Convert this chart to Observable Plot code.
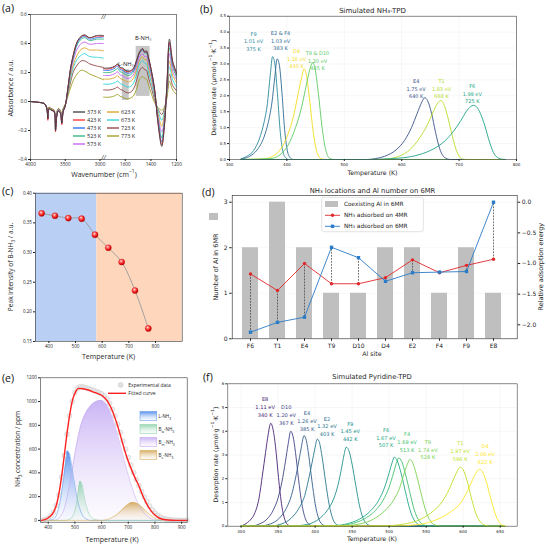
<!DOCTYPE html>
<html>
<head>
<meta charset="utf-8">
<script src="https://cdn.jsdelivr.net/npm/d3@7"></script>
<script src="https://cdn.jsdelivr.net/npm/@observablehq/plot@0.6"></script>
<style>
  html, body { margin: 0; padding: 0; background: #fff; }
  #fig { position: relative; width: 546px; height: 544px; overflow: hidden; background: #fff; }
</style>
</head>
<body>
<svg width="0" height="0" style="position:absolute">
  <defs>
    <radialGradient id="ball" cx="0.4" cy="0.35" r="0.62">
      <stop offset="0" stop-color="#ffffff"/>
      <stop offset="0.22" stop-color="#ff8a8a"/>
      <stop offset="0.65" stop-color="#f42020"/>
      <stop offset="1" stop-color="#b30000"/>
    </radialGradient>
    <linearGradient id="fillL" x1="0" y1="0" x2="0" y2="1">
      <stop offset="0" stop-color="#3b7ee8" stop-opacity="0.85"/>
      <stop offset="1" stop-color="#e3edfc" stop-opacity="0.2"/>
    </linearGradient>
    <linearGradient id="fillBw" x1="0" y1="0" x2="0" y2="1">
      <stop offset="0" stop-color="#6cc594" stop-opacity="0.7"/>
      <stop offset="1" stop-color="#e6f6ec" stop-opacity="0.2"/>
    </linearGradient>
    <linearGradient id="fillBm" x1="0" y1="0" x2="0" y2="1">
      <stop offset="0" stop-color="#a985ee" stop-opacity="0.62"/>
      <stop offset="1" stop-color="#f3ecfd" stop-opacity="0.25"/>
    </linearGradient>
    <linearGradient id="fillBs" x1="0" y1="0" x2="0" y2="1">
      <stop offset="0" stop-color="#c99233" stop-opacity="0.75"/>
      <stop offset="1" stop-color="#f7eedd" stop-opacity="0.2"/>
    </linearGradient>
  </defs>
</svg>
<div id="fig"></div>
<script>
// ---------- (a) in-situ IR spectra of adsorbed NH3 ----------
const aTemps = [373, 423, 473, 523, 573, 623, 673, 723, 773];
const wnGrid = [4000, 3900, 3800, 3765, 3750, 3735, 3700, 3660, 3640, 3625, 3600, 3570, 3550, 3530, 3500, 3460, 3420, 3380, 3330, 3270, 3220, 3150, 3050, 2950,
  1770, 1720, 1680, 1660, 1640, 1620, 1600, 1570, 1540, 1510, 1490, 1465, 1450, 1435, 1420, 1395, 1370, 1345, 1315, 1295, 1275, 1255, 1230, 1200];
const ir373 = [0.00, -0.005, -0.015, -0.05, -0.12, -0.05, -0.06, -0.07, -0.20, -0.11, -0.065, -0.08, -0.15, -0.07, -0.03, 0.10, 0.24, 0.33, 0.41, 0.45, 0.46, 0.44, 0.455, 0.455,
  0.23, 0.232, 0.245, 0.26, 0.235, 0.232, 0.215, 0.21, 0.225, 0.29, 0.34, 0.366, 0.345, 0.35, 0.31, 0.21, 0.08, -0.15, -0.31, -0.18, 0.12, 0.43, 0.28, 0.20];
const ir423 = [0.00, -0.005, -0.015, -0.05, -0.13, -0.05, -0.06, -0.07, -0.21, -0.11, -0.065, -0.08, -0.16, -0.07, -0.03, 0.10, 0.24, 0.33, 0.41, 0.45, 0.455, 0.44, 0.45, 0.45,
  0.225, 0.226, 0.24, 0.255, 0.23, 0.226, 0.21, 0.205, 0.22, 0.285, 0.335, 0.362, 0.34, 0.345, 0.305, 0.205, 0.075, -0.14, -0.30, -0.17, 0.11, 0.41, 0.27, 0.19];
const ir473 = [0.00, -0.005, -0.015, -0.05, -0.12, -0.05, -0.06, -0.07, -0.20, -0.11, -0.065, -0.08, -0.15, -0.07, -0.03, 0.10, 0.235, 0.32, 0.40, 0.44, 0.45, 0.43, 0.44, 0.445,
  0.215, 0.216, 0.23, 0.245, 0.22, 0.215, 0.20, 0.195, 0.21, 0.28, 0.33, 0.358, 0.337, 0.34, 0.30, 0.20, 0.07, -0.13, -0.28, -0.16, 0.10, 0.40, 0.26, 0.185];
const ir523 = [0.00, -0.005, -0.015, -0.05, -0.12, -0.05, -0.06, -0.07, -0.20, -0.11, -0.065, -0.08, -0.15, -0.07, -0.03, 0.09, 0.23, 0.31, 0.39, 0.43, 0.44, 0.42, 0.43, 0.43,
  0.20, 0.20, 0.215, 0.228, 0.205, 0.20, 0.185, 0.18, 0.20, 0.275, 0.33, 0.357, 0.335, 0.335, 0.29, 0.19, 0.06, -0.12, -0.25, -0.14, 0.09, 0.37, 0.24, 0.17];
const ir573 = [0.00, -0.005, -0.015, -0.05, -0.11, -0.05, -0.06, -0.07, -0.19, -0.10, -0.06, -0.075, -0.14, -0.065, -0.03, 0.09, 0.21, 0.29, 0.36, 0.40, 0.41, 0.395, 0.40, 0.40,
  0.18, 0.18, 0.193, 0.205, 0.183, 0.178, 0.165, 0.16, 0.18, 0.25, 0.305, 0.330, 0.31, 0.31, 0.265, 0.17, 0.05, -0.10, -0.21, -0.12, 0.08, 0.33, 0.21, 0.15];
const ir623 = [0.00, -0.005, -0.015, -0.045, -0.10, -0.045, -0.055, -0.065, -0.18, -0.10, -0.06, -0.07, -0.13, -0.06, -0.025, 0.08, 0.19, 0.26, 0.32, 0.36, 0.37, 0.355, 0.355, 0.35,
  0.155, 0.155, 0.166, 0.178, 0.158, 0.152, 0.14, 0.135, 0.155, 0.225, 0.282, 0.308, 0.29, 0.288, 0.24, 0.15, 0.04, -0.08, -0.17, -0.09, 0.06, 0.28, 0.18, 0.13];
const ir673 = [0.00, -0.005, -0.015, -0.045, -0.10, -0.045, -0.055, -0.065, -0.17, -0.09, -0.055, -0.07, -0.12, -0.055, -0.025, 0.07, 0.17, 0.24, 0.29, 0.32, 0.33, 0.31, 0.305, 0.30,
  0.12, 0.12, 0.13, 0.142, 0.123, 0.118, 0.105, 0.10, 0.12, 0.195, 0.258, 0.284, 0.265, 0.26, 0.21, 0.12, 0.03, -0.06, -0.13, -0.07, 0.05, 0.24, 0.15, 0.10];
const ir723 = [0.00, -0.005, -0.015, -0.04, -0.09, -0.04, -0.05, -0.06, -0.16, -0.085, -0.05, -0.065, -0.11, -0.05, -0.02, 0.06, 0.14, 0.21, 0.25, 0.28, 0.28, 0.26, 0.245, 0.235,
  0.08, 0.08, 0.09, 0.10, 0.083, 0.078, 0.065, 0.06, 0.08, 0.15, 0.21, 0.236, 0.22, 0.215, 0.17, 0.09, 0.01, -0.05, -0.09, -0.05, 0.04, 0.19, 0.11, 0.075];
const ir773 = [0.00, -0.005, -0.015, -0.04, -0.09, -0.04, -0.05, -0.06, -0.15, -0.08, -0.05, -0.06, -0.10, -0.05, -0.02, 0.04, 0.10, 0.15, 0.19, 0.215, 0.21, 0.19, 0.17, 0.15,
  0.03, 0.03, 0.04, 0.05, 0.035, 0.03, 0.02, 0.02, 0.035, 0.09, 0.15, 0.172, 0.16, 0.155, 0.12, 0.05, -0.01, -0.04, -0.06, -0.04, 0.02, 0.14, 0.08, 0.05];
const irBands = [
  {name: "L-NH₃", from: 1623, to: 1569, lo: 0.007, hi: 0.22},
  {name: "B-NH₃", from: 1515, to: 1406, lo: 0.035, hi: 0.38}
];

// ---------- (b) simulated NH3-TPD: [temperature K, rate] ----------
const tpdF9 = [[320,0.02],[330,0.1],[342,0.28],[352,0.65],[360,1.15],[366,1.75],[371,2.65],[375,3.23],[379,3.0],[384,1.95],[388,0.95],[392,0.35],[397,0.07],[403,0],[780,0]];
const tpdE2F4 = [[320,0.01],[335,0.1],[348,0.3],[360,0.7],[368,1.2],[374,1.8],[379,2.6],[383,3.16],[387,2.95],[392,1.95],[396,0.95],[400,0.35],[405,0.07],[411,0],[780,0]];
const tpdD4 = [[320,0],[360,0.02],[375,0.1],[390,0.35],[402,0.8],[412,1.4],[420,2.1],[426,2.6],[430,2.85],[434,2.65],[440,1.8],[446,0.85],[452,0.25],[460,0.02],[468,0],[780,0]];
const tpdT9D10 = [[320,0],[372,0.03],[388,0.15],[402,0.45],[415,1.0],[425,1.6],[434,2.35],[441,2.9],[445,3.04],[449,2.85],[455,2.05],[461,1.05],[467,0.35],[475,0.03],[482,0],[780,0]];
const tpdE4 = [[320,0],[540,0],[555,0.03],[570,0.1],[590,0.3],[605,0.6],[617,1.0],[627,1.45],[635,1.8],[640,1.94],[645,1.85],[652,1.45],[659,0.85],[666,0.35],[675,0.06],[685,0],[780,0]];
const tpdT1 = [[320,0],[560,0],[575,0.02],[595,0.1],[615,0.32],[632,0.7],[645,1.1],[655,1.5],[663,1.78],[668,1.85],[673,1.75],[680,1.35],[688,0.75],[696,0.25],[705,0.02],[712,0],[780,0]];
const tpdF6 = [[320,0],[540,0],[560,0.01],[600,0.05],[630,0.15],[655,0.33],[675,0.58],[690,0.88],[703,1.22],[713,1.52],[720,1.66],[725,1.70],[730,1.66],[737,1.45],[745,1.05],[753,0.55],[762,0.15],[772,0.02],[780,0]];
const nh3Sites = ["F9", "E2 & F4", "D4", "T9 & D10", "E4", "T1", "F6"];
const nh3Energy = ["1.01", "1.03", "1.16", "1.20", "1.75", "1.83", "1.99"];

// ---------- (c) B-NH3 peak intensity vs temperature ----------
const cTemps = [373, 423, 473, 523, 573, 623, 673, 723, 773];
const cPeak = [0.366, 0.362, 0.358, 0.357, 0.330, 0.308, 0.284, 0.236, 0.172];
const cRegimes = [[350, 580], [580, 900]];

// ---------- (d) NH3 locations and Al number on 6MR ----------
const dSites = ["F6", "T1", "E4", "T9", "D10", "D4", "E2", "F4", "F9", "E8"];
const alIn6MR = [2, 3, 2, 1, 1, 2, 2, 1, 2, 1];
const e4MR = [-1.17, -1.44, -1.00, -1.33, -1.33, -1.23, -0.94, -1.15, -1.03, -0.93];
const e6MR = [-2.12, -1.96, -1.875, -0.735, -0.905, -1.29, -1.15, -1.14, -1.13, 0.0];

// ---------- (e) NH3-TPD profile and deconvolution: [temperature K, ppm] ----------
const tpdExp = [[380,3],[390,9],[400,20],[410,38],[420,72],[430,125],[440,215],[450,365],[460,545],[470,725],[480,880],[490,1000],[500,1075],[510,1112],[520,1125],[530,1124],[540,1118],[550,1110],[560,1102],[570,1094],[580,1085],[590,1077],[600,1065],[610,1048],[620,1022],[630,985],[640,935],[650,878],[660,810],[670,740],[680,668],[690,598],[700,530],[710,465],[720,402],[730,345],[740,292],[750,243],[760,198],[770,158],[780,120],[790,88],[800,62],[810,42],[820,28],[830,18],[840,12],[850,8],[860,5],[870,3],[880,2],[890,1],[900,0],[910,0],[920,0]];
const fitCurve = [[375,0],[390,8],[405,30],[420,70],[432,140],[442,250],[452,400],[462,580],[472,760],[482,910],[492,1020],[502,1080],[514,1111],[530,1108],[550,1097],[570,1080],[590,1063],[605,1045],[620,1010],[635,950],[650,865],[665,760],[680,640],[695,530],[710,440],[725,360],[740,290],[755,205],[770,135],[785,82],[800,45],[820,16],[850,3],[880,0],[920,0]];
const compL = [[375,0],[400,0],[420,12],[435,70],[445,165],[455,310],[465,480],[472,585],[480,560],[490,430],[500,290],[510,170],[522,75],[540,15],[560,0],[920,0]];
const compBw = [[375,0],[465,0],[480,10],[495,50],[505,130],[512,230],[520,330],[528,290],[536,190],[546,95],[558,35],[575,8],[595,0],[920,0]];
const compBm = [[375,0],[420,0],[440,20],[460,100],[480,300],[500,560],[520,780],[540,900],[560,965],[580,1000],[598,1010],[615,985],[635,900],[655,760],[675,590],[695,420],[715,270],[735,150],[755,75],[775,30],[800,5],[820,0],[920,0]];
const compBs = [[375,0],[600,0],[630,15],[655,45],[675,85],[695,125],[715,150],[735,140],[755,105],[775,60],[795,25],[820,5],[850,0],[920,0]];

// ---------- (f) simulated pyridine-TPD: [temperature K, rate] ----------
const pyE8 = [[300,0],[305,0.08],[312,0.25],[318,0.52],[324,1.15],[329,2.2],[333,3.1],[336.5,3.85],[340,4.34],[343,4.1],[346.5,3.35],[350.5,2.05],[355,0.85],[359,0.28],[364,0.04],[370,0],[655,0]];
const pyD10 = [[300,0],[315,0.01],[325,0.1],[335,0.3],[343,0.65],[350,1.2],[355,1.85],[360,2.75],[363.5,3.45],[367,4.0],[370,3.8],[373.5,3.1],[377.5,2.0],[382,0.95],[387,0.3],[393,0.05],[400,0],[655,0]];
const pyE4 = [[300,0],[325,0.01],[340,0.1],[352,0.35],[361,0.75],[368,1.3],[373,1.95],[378,2.75],[381.5,3.35],[385,3.82],[388,3.62],[391.5,2.95],[395.5,1.95],[400,0.95],[405,0.3],[411,0.05],[418,0],[655,0]];
const pyE2 = [[300,0],[340,0.01],[355,0.1],[368,0.35],[378,0.75],[386,1.3],[391,1.95],[396,2.7],[399.5,3.25],[403,3.67],[406,3.5],[409.5,2.9],[414,1.9],[419,0.9],[424,0.3],[430,0.05],[438,0],[655,0]];
const pyF9 = [[300,0],[370,0.01],[390,0.08],[405,0.3],[416,0.65],[425,1.15],[431,1.75],[436,2.5],[439,3.0],[442,3.33],[446,3.15],[450,2.6],[455,1.7],[460,0.85],[466,0.25],[473,0.04],[482,0],[655,0]];
const pyF6 = [[300,0],[420,0.01],[440,0.08],[460,0.3],[475,0.65],[486,1.1],[494,1.65],[500,2.25],[504,2.68],[507,2.91],[511,2.75],[516,2.25],[522,1.45],[528,0.7],[535,0.2],[543,0.03],[553,0],[655,0]];
const pyF4 = [[300,0],[425,0.01],[446,0.08],[466,0.3],[481,0.65],[492,1.1],[500,1.65],[506,2.25],[510,2.68],[513,2.88],[517,2.72],[522,2.2],[528,1.42],[534,0.68],[541,0.2],[549,0.03],[559,0],[655,0]];
const pyT9 = [[300,0],[435,0.01],[458,0.08],[479,0.3],[494,0.65],[506,1.1],[514,1.6],[520,2.2],[524.5,2.6],[528,2.81],[532,2.66],[537,2.15],[543,1.4],[549,0.7],[556,0.2],[564,0.03],[574,0],[655,0]];
const pyT1 = [[300,0],[490,0.01],[518,0.08],[543,0.3],[560,0.65],[572,1.05],[581,1.55],[588,2.05],[592.5,2.35],[596,2.49],[600,2.38],[605,1.95],[611,1.2],[617,0.55],[624,0.15],[631,0.03],[638,0],[655,0]];
const pyD4 = [[300,0],[510,0.01],[540,0.07],[566,0.3],[584,0.62],[597,1.0],[606,1.5],[613,1.98],[618,2.28],[622,2.40],[626,2.3],[631,1.9],[637,1.2],[643,0.55],[649,0.15],[654,0.03],[658,0]];
const pySites = ["E8", "D10", "E4", "E2", "F9", "F6", "F4", "T9", "T1", "D4"];
const pyEnergy = ["1.11", "1.20", "1.26", "1.32", "1.45", "1.67", "1.69", "1.74", "1.97", "2.06"];

// ================= drawing =================
const fig = document.getElementById("fig");
const PX = p => p[0], PY = p => p[1];
function place(svg, left, top) {
  svg.style.position = "absolute";
  svg.style.left = left + "px";
  svg.style.top = top + "px";
  fig.appendChild(svg);
}
const openSans = "'Open Sans', sans-serif";
const dejavu = "'DejaVu Sans', sans-serif";
const baseStyle = (family, size) => ({fontFamily: family, fontSize: size, background: "transparent", overflow: "visible", color: "#222"});

// (a)
const aColors = ["#3b3b3b", "#ff2b2b", "#2468f0", "#25b47a", "#c35cf2", "#d9a21b", "#26d3d6", "#8e3b3b", "#999919"];
const irSeries = [ir373, ir423, ir473, ir523, ir573, ir623, ir673, ir723, ir773];
const irRows = d3.range(irSeries.length).reverse().flatMap(i => irSeries[i].map((v, j) => ({
  temp: aTemps[i], wn: wnGrid[j], abs: v, part: wnGrid[j] > 2000 ? "hi" : "lo"
})));
place(Plot.plot({
  width: 185, height: 180, marginLeft: 30, marginRight: 9, marginTop: 14, marginBottom: 21,
  style: baseStyle(openSans, "4.6px"),
  x: {type: "linear", domain: [4000, 2950, 1770, 1200], range: [30, 103, 103, 176]},
  y: {domain: [-0.4, 0.6]},
  color: {type: "ordinal", domain: aTemps, range: aColors},
  marks: [
    Plot.rect(irBands, {x1: "from", x2: "to", y1: "lo", y2: "hi", fill: "#c6c6c6"}),
    Plot.line(irRows, {x: "wn", y: "abs", z: d => `${d.temp}-${d.part}`, stroke: "temp", strokeWidth: 0.85, curve: "catmull-rom"}),
    ...irBands.map((b, i) => Plot.text([b], {x: d => (d.from + d.to) / 2, y: "hi", text: "name", dy: [-5.5, -8][i], fontSize: 5.8, fill: "#222"})),
    Plot.frame({stroke: "#333", strokeWidth: 0.6}),
    Plot.text([2950], {x: d => d, frameAnchor: "top", text: () => "//", fontSize: 6.5, fontStyle: "italic", fill: "#333"}),
    Plot.text([2950], {x: d => d, frameAnchor: "bottom", text: () => "//", fontSize: 6.5, fontStyle: "italic", fill: "#333"}),
    Plot.axisX({ticks: [4000, 3500, 3000, 1600, 1400, 1200], tickFormat: d => `${d}`, tickSize: 2, tickPadding: 1.5, label: null}),
    Plot.axisY({ticks: [-0.4, -0.2, 0, 0.2, 0.4, 0.6], tickFormat: d3.format(".1f"), tickSize: 2, tickPadding: 1.5, label: null})
  ]
}), 0, 0);

// (b)
const nh3Curves = [tpdF9, tpdE2F4, tpdD4, tpdT9D10, tpdE4, tpdT1, tpdF6];
const nh3Colors = ["#2b8a9c", "#2e6a92", "#f2dc1c", "#5ec962", "#3b528b", "#b5dc2a", "#20a486"];
const nh3Nudge = [[-19, -16], [3.4, -18.4], [-7.6, -10.2], [4.8, -2.2], [-8.5, -9.2], [0.8, -12.1], [-1.2, -12.2]];
place(Plot.plot({
  width: 361, height: 180, marginLeft: 44, marginRight: 30, marginTop: 15.7, marginBottom: 21,
  style: baseStyle(dejavu, "4px"),
  x: {domain: [300, 800]},
  y: {domain: [0, 4.5]},
  marks: [
    Plot.gridX({ticks: d3.range(300, 801, 100), stroke: "#000", strokeOpacity: 0.07, strokeWidth: 0.5}),
    Plot.gridY({ticks: d3.range(0, 4.51, 0.5), stroke: "#000", strokeOpacity: 0.07, strokeWidth: 0.5}),
    ...nh3Curves.map((pts, i) => Plot.line(pts, {x: PX, y: PY, stroke: nh3Colors[i], strokeWidth: 0.9, curve: "monotone-x"})),
    ...nh3Curves.map((pts, i) => Plot.text([d3.greatest(pts, PY)], {
      x: PX, y: PY, text: p => `${nh3Sites[i]}\n${nh3Energy[i]} eV\n${p[0]} K`,
      fill: nh3Colors[i], dx: nh3Nudge[i][0], dy: nh3Nudge[i][1], fontSize: 5, lineHeight: 1.5, lineAnchor: "middle"
    })),
    Plot.frame({stroke: "#444", strokeWidth: 0.6}),
    Plot.axisX({ticks: d3.range(300, 801, 100), tickFormat: d => `${d}`, tickSize: 2, tickPadding: 1.5, label: null}),
    Plot.axisY({ticks: d3.range(0, 4.51, 0.5), tickFormat: d3.format(".1f"), tickSize: 2, tickPadding: 1.5, label: null})
  ]
}), 185, 0);

// (c)
const cRows = cTemps.map((t, i) => ({T: t, I: cPeak[i]}));
const cYDomain = [0.15, 0.40];
place(Plot.plot({
  width: 190, height: 180, marginLeft: 35, marginRight: 8.3, marginTop: 12.7, marginBottom: 19,
  style: baseStyle(openSans, "4.6px"),
  x: {domain: [350, 900]},
  y: {domain: cYDomain},
  marks: [
    Plot.rect([cRegimes[0]], {x1: PX, x2: PY, y1: () => cYDomain[0], y2: () => cYDomain[1], fill: "#b9cff4"}),
    Plot.rect([cRegimes[1]], {x1: PX, x2: PY, y1: () => cYDomain[0], y2: () => cYDomain[1], fill: "#fdd6bb"}),
    Plot.line(cRows, {x: "T", y: "I", stroke: "#9a9a9a", strokeWidth: 0.9, curve: "catmull-rom"}),
    Plot.dot(cRows, {x: "T", y: "I", r: 3.1, fill: "url(#ball)", stroke: "#c81414", strokeWidth: 0.3}),
    Plot.frame({stroke: "#333", strokeWidth: 0.6}),
    Plot.axisX({ticks: d3.range(400, 801, 100), tickFormat: d => `${d}`, tickSize: 2, tickPadding: 1.5, label: null}),
    Plot.axisY({ticks: d3.range(0.15, 0.401, 0.05), tickFormat: d3.format(".2f"), tickSize: 2, tickPadding: 1.5, label: null})
  ]
}), 0, 180);

// (d) bars on the left axis, energies on the right axis
const dRows = dSites.map((s, i) => ({site: s, al: alIn6MR[i], e4: e4MR[i], e6: e6MR[i]}));
const dX = {type: "band", domain: dSites, range: [44.6, 318.7], paddingInner: 0.4, paddingOuter: 0.2};
const dLayout = {width: 356, height: 180, marginLeft: 41.7, marginRight: 29.3, marginTop: 15, marginBottom: 21.7};
place(Plot.plot({
  ...dLayout,
  style: baseStyle(dejavu, "6px"),
  x: dX,
  y: {domain: [0, 3.147]},
  marks: [
    Plot.gridY({ticks: [1, 2, 3], stroke: "#000", strokeOpacity: 0.06, strokeWidth: 0.5}),
    Plot.barY(dRows, {x: "site", y: "al", fill: "#bfbfbf"}),
    Plot.frame({stroke: "#222", strokeWidth: 0.6}),
    Plot.axisX({tickSize: 2.5, tickPadding: 2, label: null}),
    Plot.axisY({ticks: [0, 1, 2, 3], tickFormat: d => `${d}`, tickSize: 2.5, tickPadding: 2, label: null})
  ]
}), 190, 180);
place(Plot.plot({
  ...dLayout,
  style: baseStyle(dejavu, "6px"),
  x: {...dX, axis: null},
  y: {domain: [-2.228, 0.11]},
  marks: [
    Plot.link(dRows.filter(d => Math.abs(d.e4 - d.e6) > 0.02), {x1: "site", x2: "site", y1: "e4", y2: "e6", stroke: "#333", strokeWidth: 0.7, strokeDasharray: "1.8,1.2"}),
    Plot.line(dRows, {x: "site", y: "e4", stroke: "#e0282a", strokeWidth: 0.9}),
    Plot.dot(dRows, {x: "site", y: "e4", r: 1.7, fill: "#e0282a"}),
    Plot.line(dRows, {x: "site", y: "e6", stroke: "#2a7cc8", strokeWidth: 0.9}),
    Plot.dot(dRows, {x: "site", y: "e6", r: 1.9, symbol: "square", fill: "#2a7cc8"}),
    Plot.axisY({anchor: "right", ticks: [0, -0.5, -1, -1.5, -2], tickFormat: d3.format(".1f"), tickSize: 2.5, tickPadding: 2, label: null})
  ]
}), 190, 180);

// (e)
const components = [
  {pts: compBm, fill: "url(#fillBm)", edge: "#c6abf0"},
  {pts: compL, fill: "url(#fillL)", edge: "#6d9fe9"},
  {pts: compBw, fill: "url(#fillBw)", edge: "#93d3af"},
  {pts: compBs, fill: "url(#fillBs)", edge: "#d9ae5c"}
];
place(Plot.plot({
  width: 200, height: 184, marginLeft: 40, marginRight: 13.3, marginTop: 17.3, marginBottom: 22.3,
  style: baseStyle(openSans, "4.6px"),
  x: {domain: [371, 921]},
  y: {domain: [-15, 1200]},
  marks: [
    ...components.map(c => Plot.areaY(c.pts, {x: PX, y: PY, fill: c.fill, curve: "monotone-x"})),
    ...components.map(c => Plot.line(c.pts, {x: PX, y: PY, stroke: c.edge, strokeWidth: 0.6, curve: "monotone-x"})),
    Plot.dot(tpdExp, {x: PX, y: PY, r: 2.4, stroke: "#c2c2c2", strokeWidth: 0.5, fill: "#e2e2e2", fillOpacity: 0.55}),
    Plot.line(fitCurve, {x: PX, y: PY, stroke: "#ff2020", strokeWidth: 1.4, curve: "monotone-x"}),
    Plot.frame({stroke: "#333", strokeWidth: 0.6}),
    Plot.axisX({ticks: d3.range(400, 901, 100), tickFormat: d => `${d}`, tickSize: 2, tickPadding: 1.5, label: null}),
    Plot.axisY({ticks: d3.range(0, 1201, 200), tickFormat: d => `${d}`, tickSize: 2, tickPadding: 1.5, label: null})
  ]
}), 0, 360);

// (f)
const pyCurves = [pyE8, pyD10, pyE4, pyE2, pyF9, pyF6, pyF4, pyT9, pyT1, pyD4];
const pyColors = pyCurves.map((_, i) => d3.interpolateViridis(0.1 + 0.9 * i / 9));
const pyNudge = [[-5.6, -16.7], [-4.4, -16.8], [3, -15.1], [9.7, -13.3], [4, -16.4], [-8.3, -19.9], [8.3, -16.4], [18, -10.3], [0, -16.6], [5.7, -15.7]];
place(Plot.plot({
  width: 346, height: 184, marginLeft: 27.3, marginRight: 29.3, marginTop: 23.3, marginBottom: 18.3,
  style: baseStyle(dejavu, "4px"),
  x: {domain: [282, 673]},
  y: {domain: [0, 6]},
  marks: [
    Plot.gridX({ticks: d3.range(300, 651, 50), stroke: "#000", strokeOpacity: 0.07, strokeWidth: 0.5}),
    Plot.gridY({ticks: d3.range(0, 7), stroke: "#000", strokeOpacity: 0.07, strokeWidth: 0.5}),
    ...pyCurves.map((pts, i) => Plot.line(pts, {x: PX, y: PY, stroke: pyColors[i], strokeWidth: 0.9, curve: "monotone-x"})),
    ...pyCurves.map((pts, i) => Plot.text([d3.greatest(pts, PY)], {
      x: PX, y: PY, text: p => `${pySites[i]}\n${pyEnergy[i]} eV\n${p[0]} K`,
      fill: pyColors[i], dx: pyNudge[i][0], dy: pyNudge[i][1], fontSize: 5.1, lineHeight: 1.5, lineAnchor: "middle"
    })),
    Plot.frame({stroke: "#444", strokeWidth: 0.6}),
    Plot.axisX({ticks: d3.range(300, 651, 50), tickFormat: d => `${d}`, tickSize: 2, tickPadding: 1.5, label: null}),
    Plot.axisY({ticks: d3.range(0, 7), tickFormat: d => `${d}`, tickSize: 2, tickPadding: 1.5, label: null})
  ]
}), 200, 360);

// ================= titles, axis labels, legends =================
const ov = d3.select(fig).append("svg").attr("width", 546).attr("height", 544)
  .style("position", "absolute").style("left", "0px").style("top", "0px").style("overflow", "visible");
function label(x, y, parts, o = {}) {
  const t = ov.append("text").attr("x", x).attr("y", y)
    .attr("font-family", o.font || openSans)
    .attr("font-size", o.size || 7)
    .attr("text-anchor", o.anchor || "middle")
    .attr("dominant-baseline", "central")
    .attr("fill", o.fill || "#1e1e1e");
  if (o.rotate) t.attr("transform", `rotate(${o.rotate},${x},${y})`);
  (Array.isArray(parts) ? parts : [[parts]]).forEach(([s, kind]) => {
    const ts = t.append("tspan").text(s);
    if (kind === "sub") ts.attr("baseline-shift", "sub").attr("font-size", "72%");
    if (kind === "sup") ts.attr("baseline-shift", "super").attr("font-size", "72%");
  });
  return t;
}
// panel tags
[["(a)", 2, 8], ["(b)", 200, 8.5], ["(c)", 2, 191], ["(d)", 202, 191.5], ["(e)", 2, 377.5], ["(f)", 203, 377]]
  .forEach(([s, x, y]) => label(x, y, s, {anchor: "start", size: 10.5, fill: "#111"}));

// (a)
label(10, 88, "Absorbance / a.u.", {rotate: -90, size: 7});
label(104, 173.5, [["Wavenumber (cm"], ["−1", "sup"], [")"]], {size: 7});
aTemps.forEach((t, i) => {
  const col = i < 5 ? 0 : 1, row = i < 5 ? i : i - 5;
  const x0 = col ? 107 : 73, y = 112 + row * 8;
  ov.append("line").attr("x1", x0).attr("x2", x0 + 12).attr("y1", y).attr("y2", y).attr("stroke", aColors[i]).attr("stroke-width", 1.3);
  label(x0 + 14, y, `${t} K`, {anchor: "start", size: 5.5});
});

// (b)
const rateLabel = [["Desorption rate (μmol·g"], ["−1", "sup"], ["·K"], ["−1", "sup"], [")"]];
label(372.5, 11, "Simulated NH₃-TPD", {font: dejavu, size: 7});
label(212.5, 87.5, rateLabel, {font: dejavu, size: 6.2, rotate: -90});
label(372.5, 171.7, "Temperature (K)", {font: dejavu, size: 6.2});

// (c)
label(10, 267, [["Peak intensity of B-NH"], ["3", "sub"], [" / a.u."]], {rotate: -90, size: 6.6});
label(108.5, 355.7, "Temperature (K)", {size: 7});

// (d)
label(372.5, 190.7, "NH₃ locations and Al number on 6MR", {font: dejavu, size: 6.8});
label(372, 353.3, "Al site", {font: dejavu, size: 6.3});
label(216, 267, "Number of Al in 6MR", {font: dejavu, size: 6.5, rotate: -90});
label(541.5, 266.7, "Relative adsorption energy", {font: dejavu, size: 6.5, rotate: -90});
ov.append("rect").attr("x", 209).attr("y", 213).attr("width", 9).attr("height", 7).attr("fill", "#bfbfbf");
ov.append("rect").attr("x", 321.7).attr("y", 197.3).attr("width", 101.6).attr("height", 34.4).attr("rx", 2)
  .attr("fill", "#fff").attr("fill-opacity", 0.85).attr("stroke", "#d0d0d0").attr("stroke-width", 0.6);
ov.append("rect").attr("x", 325).attr("y", 201).attr("width", 13).attr("height", 6).attr("fill", "#bfbfbf");
label(344, 204, "Coexisting Al in 6MR", {font: dejavu, size: 5.8, anchor: "start"});
ov.append("line").attr("x1", 325).attr("x2", 340).attr("y1", 215.3).attr("y2", 215.3).attr("stroke", "#e0282a").attr("stroke-width", 0.9);
ov.append("circle").attr("cx", 332.5).attr("cy", 215.3).attr("r", 1.7).attr("fill", "#e0282a");
label(344, 215.3, "NH₃ adsorbed on 4MR", {font: dejavu, size: 5.8, anchor: "start"});
ov.append("line").attr("x1", 325).attr("x2", 340).attr("y1", 226.3).attr("y2", 226.3).attr("stroke", "#2a7cc8").attr("stroke-width", 0.9);
ov.append("rect").attr("x", 330.8).attr("y", 224.6).attr("width", 3.4).attr("height", 3.4).attr("fill", "#2a7cc8");
label(344, 226.3, "NH₃ adsorbed on 6MR", {font: dejavu, size: 5.8, anchor: "start"});

// (e)
label(16.5, 449, [["NH"], ["3", "sub"], [" concentration / ppm"]], {rotate: -90, size: 6.5});
label(112, 539.3, "Temperature (K)", {size: 7});
ov.append("circle").attr("cx", 120.7).attr("cy", 385).attr("r", 2.4).attr("fill", "#e2e2e2").attr("stroke", "#c2c2c2").attr("stroke-width", 0.5);
label(128.3, 385, "Experimental data", {anchor: "start", size: 5});
ov.append("line").attr("x1", 108).attr("x2", 126).attr("y1", 393.3).attr("y2", 393.3).attr("stroke", "#ff2020").attr("stroke-width", 1.4);
label(128.3, 393.3, "Fitted curve", {anchor: "start", size: 5});
[
  {fill: "url(#fillL)", edge: "#6d9fe9", parts: [["L-NH"], ["3", "sub"]]},
  {fill: "url(#fillBw)", edge: "#93d3af", parts: [["B"], ["w", "sub"], ["-NH"], ["3", "sub"]]},
  {fill: "url(#fillBm)", edge: "#c6abf0", parts: [["B"], ["m", "sub"], ["-NH"], ["3", "sub"]]},
  {fill: "url(#fillBs)", edge: "#d9ae5c", parts: [["B"], ["s", "sub"], ["-NH"], ["3", "sub"]]}
].forEach((c, i) => {
  const y = 416 + i * 13;
  ov.append("rect").attr("x", 140).attr("y", y - 4.5).attr("width", 16.7).attr("height", 9)
    .attr("fill", c.fill).attr("stroke", c.edge).attr("stroke-width", 0.6);
  label(158.5, y, c.parts, {anchor: "start", size: 4.6});
});

// (f)
label(372, 377.3, "Simulated Pyridine-TPD", {font: dejavu, size: 6.8});
label(215, 454.5, rateLabel, {font: dejavu, size: 6.2, rotate: -90});
label(372, 537.5, "Temperature (K)", {font: dejavu, size: 6.2});
</script>
</body>
</html>
